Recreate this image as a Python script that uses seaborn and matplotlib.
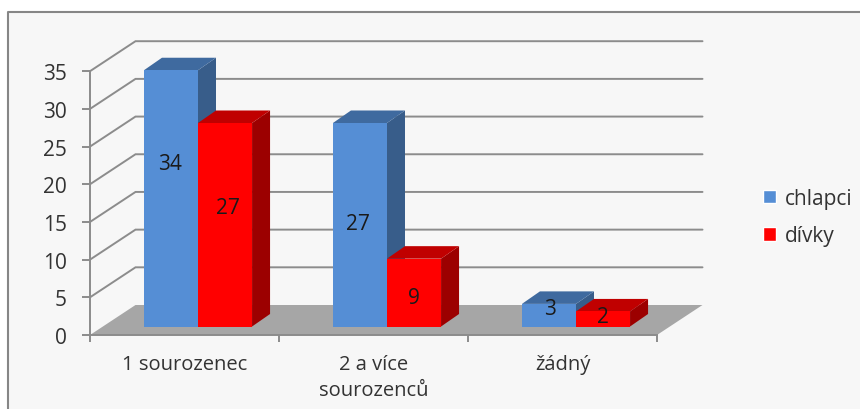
import matplotlib
matplotlib.use("Agg")
import matplotlib.pyplot as plt
from matplotlib.patches import Polygon, Rectangle
from matplotlib.lines import Line2D
import pandas as pd
import seaborn as sns

categories = ["1 sourozenec", "2 a více\nsourozenců", "žádný"]
chlapci = [34, 27, 3]
divky = [27, 9, 2]
series_names = ["chlapci", "dívky"]
y_ticks = [0, 5, 10, 15, 20, 25, 30, 35]

FRONT = {"chlapci": "#558ED5", "dívky": "#FF0000"}
TOP = {"chlapci": "#3F6A9F", "dívky": "#C00000"}
SIDE = {"chlapci": "#385D8A", "dívky": "#9C0000"}
LINE = "#8C8C8C"
TEXT = "#333333"

sns.set_theme(style="white")
plt.rcParams["font.family"] = ["Open Sans", "DejaVu Sans"]

W, H = 860, 410
fig = plt.figure(figsize=(W / 100, H / 100), dpi=100, facecolor="white")

# chart frame (open towards the right and bottom edges of the picture)
fig.add_artist(Rectangle((8 / W, 0), 1, 1 - 13 / H, transform=fig.transFigure,
                         facecolor="#F7F7F7", edgecolor="none", zorder=-5))
fig.add_artist(Line2D([8 / W, 8 / W, 1], [0, 1 - 13 / H, 1 - 13 / H], transform=fig.transFigure,
                      color="#868686", lw=1.5, zorder=-4))

x0, x1, y_base, y_top = 90, 657, 336, 72.2
ax = fig.add_axes([x0 / W, 1 - y_base / H, (x1 - x0) / W, (y_base - y_top) / H])
ax.patch.set_alpha(0)

df = pd.DataFrame({
    "kategorie": categories * 2,
    "pohlavi": [series_names[0]] * 3 + [series_names[1]] * 3,
    "pocet": chlapci + divky,
})
sns.barplot(data=df, x="kategorie", y="pocet", hue="pohlavi", hue_order=series_names,
            palette=FRONT, saturation=1, width=0.572, gap=0, ax=ax, legend=False,
            errorbar=None, linewidth=0, zorder=3)

ax.set_xlim(-0.5, 2.5)
ax.set_ylim(0, 35)
px_x = 3 / (x1 - x0)          # data units per pixel
px_y = 35 / (y_base - y_top)

# wall and floor depth
wall_dx, wall_dy = 45.5 * px_x, 30 * px_y
ax.add_patch(Polygon([(-0.5, 0), (2.5, 0), (2.5 + wall_dx, wall_dy), (-0.5 + wall_dx, wall_dy)],
                     facecolor="#A6A6A6", edgecolor="none", clip_on=False, zorder=1))
for v in y_ticks[1:]:
    ax.plot([-0.5, -0.5 + wall_dx, 2.5 + wall_dx], [v, v + wall_dy, v + wall_dy],
            color=LINE, lw=1.4, clip_on=False, zorder=0.5, solid_joinstyle="miter")

# bars: pushed into the depth, with side and top faces
shift_x, shift_y = 13.5 * px_x, 8.5 * px_y
bar_dx, bar_dy = 18 * px_x, 12.5 * px_y
label_offsets = {
    "chlapci": [(-1, 35), (-2, 1), (1, 7)],
    "dívky": [(3, 17), (0, -5), (0, 2)],
}
for s, (name, container) in enumerate(zip(series_names, ax.containers)):
    z = 3 + s
    for i, bar in enumerate(container):
        bar.set_x(bar.get_x() + shift_x)
        bar.set_y(bar.get_y() + shift_y)
        bar.set_zorder(z + 0.2)
        bar.set_clip_on(False)
        l, b, w, h = bar.get_x(), bar.get_y(), bar.get_width(), bar.get_height()
        ax.add_patch(Polygon([(l + w, b), (l + w + bar_dx, b + bar_dy),
                              (l + w + bar_dx, b + h + bar_dy), (l + w, b + h)],
                             facecolor=SIDE[name], edgecolor="none", clip_on=False, zorder=z))
        ax.add_patch(Polygon([(l, b + h), (l + w, b + h),
                              (l + w + bar_dx, b + h + bar_dy), (l + bar_dx, b + h + bar_dy)],
                             facecolor=TOP[name], edgecolor="none", clip_on=False, zorder=z + 0.1))
        ax.annotate(str(int(h)), (l + w / 2, b + h / 2), xytext=label_offsets[name][i],
                    textcoords="offset pixels", ha="center", va="center", fontsize=15,
                    color="#1A1A1A", zorder=8)

# axes
sns.despine(ax=ax, top=True, right=True)
for side in ("left", "bottom"):
    ax.spines[side].set_color(LINE)
    ax.spines[side].set_linewidth(1.4)
    ax.spines[side].set_zorder(2)
ax.set_xlabel("")
ax.set_ylabel("")
ax.set_yticks(y_ticks)
ax.set_xticks([-0.5, 0.5, 1.5, 2.5])
ax.set_xticklabels([])
ax.set_xticks([0, 1, 2], labels=categories, minor=True)
ax.tick_params(axis="y", length=5.8, width=1.4, color=LINE, labelsize=15, labelcolor=TEXT, pad=11, left=True)
ax.tick_params(axis="x", which="major", length=5, width=1.4, color=LINE, bottom=True)
ax.tick_params(axis="x", which="minor", length=0, labelsize=14.5, labelcolor=TEXT, pad=14)
for t in ax.get_xticklabels(minor=True):
    t.set_linespacing(1.36)

# legend
handles = [Rectangle((0, 0), 1, 1, facecolor=FRONT[n]) for n in series_names]
fig.legend(handles, series_names, loc="upper left", bbox_to_anchor=(756.5 / W, 1 - 182.5 / H),
           frameon=False, fontsize=15, labelcolor=TEXT, handlelength=0.62, handleheight=0.62,
           handletextpad=0.45, labelspacing=0.8, borderpad=0.3, borderaxespad=0)

fig.savefig("out.png", dpi=100, facecolor="white")
